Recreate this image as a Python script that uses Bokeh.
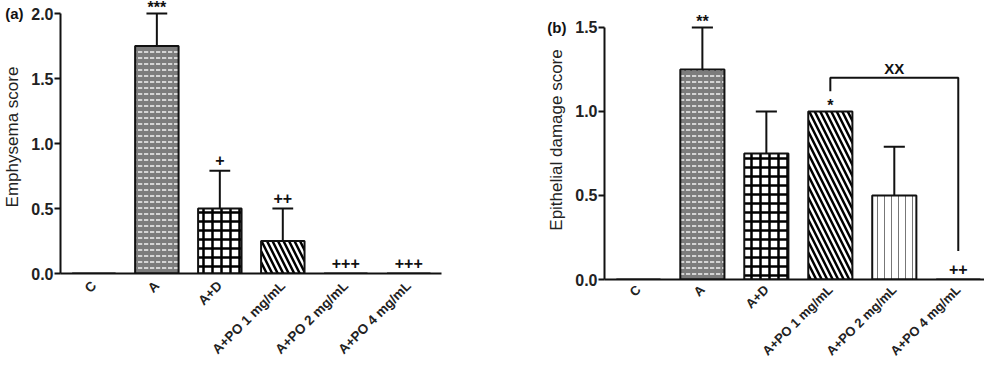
from bokeh.plotting import figure
from bokeh.models import (ColumnDataSource, FixedTicker, NumeralTickFormatter, Range1d,
                          LinearAxis)
from bokeh.layouts import row, column
from bokeh.core.properties import value
from bokeh.embed import file_html
from bokeh.resources import INLINE
import math

# ---------------- data ----------------
categories = ["C", "A", "A+D", "A+PO 1 mg/mL", "A+PO 2 mg/mL", "A+PO 4 mg/mL"]

emphysema_mean = [0.0, 1.75, 0.50, 0.25, 0.0, 0.0]
emphysema_err = [0.0, 0.25, 0.29, 0.25, 0.0, 0.0]
emphysema_sig = ["", "***", "+", "++", "+++", "+++"]

epithelial_mean = [0.0, 1.25, 0.75, 1.00, 0.50, 0.0]
epithelial_err = [0.0, 0.25, 0.25, 0.0, 0.29, 0.0]
epithelial_sig = ["", "**", "", "*", "", "++"]

# comparison bracket in panel (b): from group, to group, label, level, leg ends
bracket_from = 3
bracket_to = 5
bracket_label = "XX"
bracket_level = 1.20
bracket_leg_ends = [1.12, 0.17]

# ---------------- styles ----------------
FONT = value("Liberation Sans")
fill_colors = ["white", "#7c7c7c", "white", "white", "white", "white"]
hatch_patterns = [" ", '"', "+", "\\", "|", " "]
hatch_colors = ["black", "#f2f2f2", "black", "black", "#777777", "black"]
hatch_scales = [8, 6, 9, 11, 7, 8]
hatch_weights = [1, 1.5, 2.5, 2.5, 1, 1]
BAR_W = 0.69
CAP = 0.165


def make_panel(means, errs, sigs, ylabel, tag, ymax_tick, y_end, width, height,
               left, bottom, right, x_end, tag_standoff, title_standoff,
               xlab_standoff, xlab_size):
    xs = list(range(len(categories)))
    p = figure(width=width, height=height, output_backend="svg", toolbar_location=None,
               x_range=Range1d(-0.53, x_end), y_range=Range1d(0, y_end),
               min_border_left=left, min_border_right=right, min_border_top=0,
               min_border_bottom=bottom, outline_line_color=None)
    p.xgrid.visible = False
    p.ygrid.visible = False

    src = ColumnDataSource(dict(x=xs, top=means, fc=fill_colors, hp=hatch_patterns,
                                hc=hatch_colors, hs=hatch_scales, hw=hatch_weights))
    p.vbar(x="x", top="top", width=BAR_W, source=src, fill_color="fc",
           hatch_pattern="hp", hatch_color="hc", hatch_scale="hs", hatch_weight="hw",
           line_color="#111111", line_width=2)

    ex = [x for x, e in zip(xs, errs) if e > 0]
    eb = [m for m, e in zip(means, errs) if e > 0]
    et = [m + e for m, e in zip(means, errs) if e > 0]
    p.segment(x0=ex, y0=eb, x1=ex, y1=et, line_color="#111111", line_width=2)
    p.segment(x0=[x - CAP for x in ex], y0=et, x1=[x + CAP for x in ex], y1=et,
              line_color="#111111", line_width=2)

    sx = [x for x, s in zip(xs, sigs) if s]
    sy = [m + e for m, e, s in zip(means, errs, sigs) if s]
    st = [s for s in sigs if s]
    soff = [-6 if "*" in s else -11 for s in st]
    p.text(x=sx, y=sy, text=st, y_offset=soff, text_font=FONT, text_font_style="bold",
           text_font_size="16px", text_align="center", text_baseline="alphabetic",
           text_color="#111111")

    ax = p.yaxis[0]
    ax.ticker = FixedTicker(ticks=[i * 0.5 for i in range(int(ymax_tick / 0.5) + 1)])
    ax.formatter = NumeralTickFormatter(format="0.0")
    ax.bounds = (0, ymax_tick)
    ax.major_label_text_font = "Liberation Sans"
    ax.major_label_text_font_style = "bold"
    ax.major_label_text_font_size = "16px"
    ax.major_label_text_color = "#222222"
    ax.major_label_standoff = 1
    ax.axis_line_width = 2
    ax.major_tick_line_width = 2
    ax.major_tick_out = 6
    ax.major_tick_in = 0
    ax.minor_tick_line_color = None
    ax.axis_line_color = "#111111"
    ax.major_tick_line_color = "#111111"

    # outer left axis: carries the panel tag at the top tick and the axis title
    tag_axis = LinearAxis(ticker=FixedTicker(ticks=[ymax_tick]),
                          major_label_overrides={ymax_tick: tag},
                          axis_line_color=None, major_tick_line_color=None,
                          minor_tick_line_color=None, major_tick_out=0, major_tick_in=0,
                          major_label_standoff=tag_standoff,
                          major_label_text_font="Liberation Sans",
                          major_label_text_font_style="bold",
                          major_label_text_font_size="15px",
                          major_label_text_color="#111111",
                          axis_label=ylabel, axis_label_standoff=title_standoff,
                          axis_label_text_font="Liberation Sans",
                          axis_label_text_font_style="normal",
                          axis_label_text_font_size="17px",
                          axis_label_text_color="#222222")
    p.add_layout(tag_axis, "left")

    xa = p.xaxis[0]
    xa.ticker = FixedTicker(ticks=xs)
    xa.major_label_overrides = {i: c for i, c in enumerate(categories)}
    xa.major_label_orientation = math.pi / 4
    xa.major_label_text_font = "Liberation Sans"
    xa.major_label_text_font_style = "bold"
    xa.major_label_text_font_size = xlab_size
    xa.major_label_text_color = "#222222"
    xa.major_label_standoff = xlab_standoff
    xa.major_tick_out = 0
    xa.major_tick_in = 0
    xa.major_tick_line_color = None
    xa.minor_tick_line_color = None
    xa.axis_line_width = 2
    xa.axis_line_color = "#111111"
    return p


pa = make_panel(emphysema_mean, emphysema_err, emphysema_sig, "Emphysema score", "(a)",
                2.0, 2.1, 530, 366, 54, 93, 89, 5.52, 5, -20, 10, "13.5px")

pb = make_panel(epithelial_mean, epithelial_err, epithelial_sig, "Epithelial damage score",
                "(b)", 1.5, 1.66, 454, 366, 74, 87, 0, 5.41, 6, -22, 8, "13px")
pb.line(x=[bracket_from, bracket_from, bracket_to, bracket_to],
        y=[bracket_leg_ends[0], bracket_level, bracket_level, bracket_leg_ends[1]],
        line_color="#111111", line_width=2)
pb.text(x=[(bracket_from + bracket_to) / 2], y=[bracket_level], text=[bracket_label],
        y_offset=-9, text_font=FONT, text_font_style="bold", text_font_size="15px",
        text_align="center", text_baseline="alphabetic", text_color="#111111")

layout = row(pa, column(pb))
open("out.html", "w").write(file_html(layout, INLINE))
